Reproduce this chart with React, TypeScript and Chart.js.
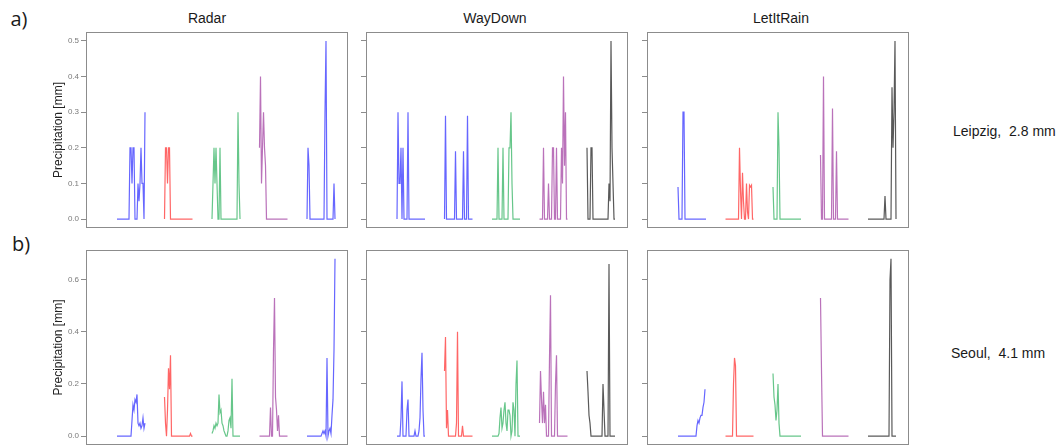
import React, { useEffect, useRef } from "react";
import { Chart, registerables } from "chart.js";

Chart.register(...registerables);

const FONT = "'Liberation Sans', Arial, sans-serif";

// time step at which each of the five events in a panel begins
const eventStart = [0, 47.5, 95, 142.5, 190];
const timeMin = -31;
const timeMax = 231;

const leipzigTicks = [0, 0.1, 0.2, 0.3, 0.4, 0.5];
const leipzigMin = -0.025;
const leipzigMax = 0.525;
const seoulTicks = [0, 0.2, 0.4, 0.6];
const seoulMin = -0.034;
const seoulMax = 0.714;

const columnTitles = ["Radar", "WayDown", "LetItRain"];
const rowLabels = ["a)", "b)"];
const rowSites = ["Leipzig,  2.8 mm", "Seoul,  4.1 mm"];
const yAxisTitle = "Precipitation [mm]";

// ---- Leipzig (row a) ----
const radarLeipzig = [
  [0, 0, 0, 0, 0, 0, 0, 0, 0, 0, 0, 0, 0, 0.2, 0.2, 0.1, 0.2, 0.2, 0, 0, 0, 0.1, 0.05, 0.1, 0.2, 0.1, 0.1, 0, 0.3],
  [0, 0.2, 0.2, 0.1, 0.2, 0.2, 0, 0, 0, 0, 0, 0, 0, 0, 0, 0, 0, 0, 0, 0, 0, 0, 0, 0, 0, 0, 0, 0, 0],
  [0, 0.1, 0.2, 0.1, 0.2, 0.1, 0, 0, 0.2, 0, 0, 0, 0, 0, 0, 0, 0, 0, 0, 0, 0, 0, 0, 0, 0, 0, 0.3, 0.1, 0],
  [0.2, 0.4, 0.1, 0.2, 0.3, 0.2, 0.15, 0, 0, 0, 0, 0, 0, 0, 0, 0, 0, 0, 0, 0, 0, 0, 0, 0, 0, 0, 0, 0, 0],
  [0, 0.2, 0.15, 0, 0, 0, 0, 0, 0, 0, 0, 0, 0, 0, 0, 0, 0, 0, 0.3, 0.5, 0, 0, 0, 0, 0, 0, 0, 0.1, 0],
];
const wayDownLeipzig = [
  [0, 0.3, 0.1, 0.1, 0.2, 0, 0.2, 0, 0, 0, 0, 0.3, 0, 0, 0, 0, 0, 0, 0, 0, 0, 0, 0, 0, 0, 0, 0, 0, 0],
  [0, 0.29, 0, 0, 0, 0, 0, 0, 0, 0, 0, 0.19, 0, 0, 0, 0, 0, 0, 0, 0.19, 0, 0, 0, 0.29, 0, 0, 0, 0, 0],
  [0, 0, 0, 0, 0, 0, 0.2, 0, 0, 0, 0, 0.2, 0, 0, 0, 0, 0, 0.2, 0.2, 0.3, 0.1, 0, 0, 0, 0, 0, 0, 0, 0],
  [0, 0, 0, 0, 0.2, 0, 0, 0, 0, 0.1, 0, 0, 0, 0.2, 0.2, 0, 0, 0.2, 0, 0, 0, 0, 0.2, 0.1, 0.4, 0.15, 0.3, 0, 0],
  [0.2, 0, 0, 0, 0.2, 0.2, 0, 0, 0, 0, 0, 0, 0, 0, 0, 0, 0, 0, 0, 0, 0, 0, 0.1, 0.05, 0.5, 0.2, 0.1, 0, 0],
];
const letItRainLeipzig = [
  [0.09, 0, 0, 0, 0, 0.3, 0.3, 0, 0, 0, 0, 0, 0, 0, 0, 0, 0, 0, 0, 0, 0, 0, 0, 0, 0, 0, 0, 0, 0],
  [0, 0, 0, 0, 0, 0, 0, 0, 0, 0, 0, 0, 0, 0, 0.2, 0.08, 0, 0.13, 0.05, 0, 0, 0.1, 0.02, 0, 0.095, 0.09, 0.095, 0, 0],
  [0.09, 0, 0, 0, 0, 0.3, 0.2, 0, 0, 0, 0, 0, 0, 0, 0, 0, 0, 0, 0, 0, 0, 0, 0, 0, 0, 0, 0, 0, 0],
  [0.18, 0, 0, 0.4, 0, 0, 0, 0, 0, 0, 0, 0, 0.31, 0, 0, 0, 0.19, 0, 0, 0, 0, 0, 0, 0, 0, 0, 0, 0, 0],
  [0, 0, 0, 0, 0, 0, 0, 0, 0, 0, 0, 0, 0, 0, 0, 0, 0, 0.065, 0, 0, 0, 0, 0, 0, 0.37, 0.2, 0.3, 0.5, 0],
];

// ---- Seoul (row b) ----
const radarSeoul = [
  [0, 0, 0, 0, 0, 0, 0, 0, 0, 0, 0, 0, 0, 0, 0, 0.06, 0.12, 0.1, 0.14, 0.13, 0.16, 0.05, 0.04, 0.05, 0.03, 0.04, 0.07, 0.03, 0.05],
  [0.15, 0.05, 0, 0.1, 0.26, 0.18, 0.31, 0, 0, 0, 0, 0, 0, 0, 0, 0, 0, 0, 0, 0, 0, 0, 0, 0, 0, 0, 0.01, 0, 0],
  [0.01, 0.02, 0.04, 0.03, 0.05, 0.04, 0.05, 0.16, 0.09, 0.1, 0.05, 0.04, 0.02, 0.01, 0, 0, 0.02, 0.06, 0.07, 0.03, 0.22, 0, 0, 0, 0, 0, 0, 0, 0],
  [0, 0, 0, 0, 0, 0, 0, 0, 0, 0, 0, 0.11, 0, 0, 0.33, 0.53, 0.15, 0.1, 0.02, 0.08, 0, 0, 0, 0, 0, 0, 0, 0, 0],
  [0, 0, 0, 0, 0, 0, 0, 0, 0, 0, 0, 0, 0, 0, 0, 0.01, 0.02, 0.01, 0.02, 0, 0.3, 0, 0.02, 0.03, 0.01, 0.08, 0.14, 0.33, 0.68],
];
const wayDownSeoul = [
  [0, 0, 0, 0, 0.07, 0.21, 0, 0, 0, 0, 0.1, 0.14, 0, 0, 0, 0, 0, 0, 0.02, 0, 0, 0, 0.02, 0.07, 0.22, 0.32, 0.1, 0, 0],
  [0.25, 0.38, 0.03, 0.1, 0, 0, 0, 0, 0, 0, 0, 0, 0.05, 0.4, 0, 0, 0, 0, 0.04, 0, 0, 0, 0, 0, 0, 0, 0, 0, 0],
  [0, 0, 0, 0, 0, 0, 0, 0.01, 0.07, 0.11, 0.03, 0.05, 0.1, 0.13, 0.05, 0.02, 0.1, 0.1, 0.08, 0, 0.02, 0.13, 0.1, 0, 0.2, 0.29, 0, 0, 0],
  [0.05, 0.25, 0.14, 0.05, 0.17, 0.05, 0.12, 0, 0, 0, 0.3, 0.54, 0, 0, 0, 0, 0.2, 0.31, 0, 0, 0, 0, 0, 0, 0, 0, 0, 0, 0],
  [0.25, 0.17, 0.08, 0.05, 0, 0, 0, 0, 0, 0, 0, 0, 0, 0, 0, 0, 0.2, 0.1, 0, 0, 0, 0, 0.66, 0, 0, 0, 0, 0, 0],
];
const letItRainSeoul = [
  [0, 0, 0, 0, 0, 0, 0, 0, 0, 0, 0, 0, 0, 0, 0, 0, 0, 0, 0, 0.04, 0.06, 0.05, 0.07, 0.08, 0.08, 0.11, 0.13, 0.18],
  [0, 0, 0, 0, 0, 0, 0, 0, 0.2, 0.3, 0.27, 0, 0, 0, 0, 0, 0, 0, 0, 0, 0, 0, 0, 0, 0, 0, 0, 0, 0],
  [0.24, 0.15, 0.12, 0.06, 0.1, 0.2, 0.05, 0, 0, 0, 0, 0, 0, 0, 0, 0, 0, 0, 0, 0, 0, 0, 0, 0, 0, 0, 0, 0, 0],
  [0.53, 0.25, 0, 0, 0, 0, 0, 0, 0, 0, 0, 0, 0, 0, 0, 0, 0, 0, 0, 0, 0, 0, 0, 0, 0, 0, 0, 0, 0],
  [0, 0, 0, 0, 0, 0, 0, 0, 0, 0, 0, 0, 0, 0, 0, 0, 0, 0, 0, 0, 0, 0, 0.6, 0.68, 0, 0, 0, 0, 0],
];

// ---- styles ----
const BLUE = "rgba(0,0,255,0.6)";
const RED = "rgba(255,0,0,0.6)";
const GREEN = "rgba(0,160,60,0.6)";
const PURPLE = "rgba(140,20,140,0.6)";
const BLACK = "rgba(0,0,0,0.65)";

const FRAME_W = 262;
const frameLefts = [86, 366, 647];
const frameTops = [32, 250];
const frameHeights = [196, 195];

const framePlugin = {
  id: "frame",
  afterDraw(chart: any) {
    const { ctx, chartArea } = chart;
    ctx.save();
    ctx.strokeStyle = "#8c8c8c";
    ctx.lineWidth = 1;
    ctx.strokeRect(
      chartArea.left + 0.5,
      chartArea.top + 0.5,
      chartArea.right - chartArea.left - 1,
      chartArea.bottom - chartArea.top - 1
    );
    ctx.restore();
  },
};

type PanelProps = {
  series: number[][];
  colors: string[];
  ticks: number[];
  yMin: number;
  yMax: number;
  showLabels: boolean;
  col: number;
  row: number;
};

function Panel({ series, colors, ticks, yMin, yMax, showLabels, col, row }: PanelProps) {
  const ref = useRef<HTMLCanvasElement>(null);
  const axisW = showLabels ? 39 : 8;
  const x = frameLefts[col] - axisW;
  const y = frameTops[row] - 2;
  const w = axisW + FRAME_W + 2;
  const h = frameHeights[row] + 4;

  useEffect(() => {
    const chart = new Chart(ref.current as HTMLCanvasElement, {
      type: "line",
      data: {
        datasets: series.map((vals, g) => ({
          data: vals.map((v, i) => ({ x: eventStart[g] + i, y: v })),
          borderColor: colors[g],
          borderWidth: 1.2,
          pointRadius: 0,
          tension: 0,
          fill: false,
        })),
      },
      options: {
        responsive: false,
        animation: false,
        devicePixelRatio: 1,
        layout: { padding: { top: 2, right: 2, bottom: 2, left: 0 } },
        plugins: { legend: { display: false }, tooltip: { enabled: false } },
        scales: {
          x: { type: "linear", min: timeMin, max: timeMax, display: false },
          y: {
            type: "linear",
            min: yMin,
            max: yMax,
            afterBuildTicks: (s: any) => {
              s.ticks = ticks.map((v) => ({ value: v }));
            },
            afterFit: (s: any) => {
              s.width = axisW;
              s.paddingTop = 0;
              s.paddingBottom = 0;
            },
            border: { display: false },
            grid: {
              drawOnChartArea: false,
              drawTicks: true,
              tickLength: 5,
              color: "#8c8c8c",
            },
            ticks: {
              display: showLabels,
              padding: 2,
              color: "#7a7a7a",
              font: { size: 8, family: FONT },
              callback: (v: any) => Number(v).toFixed(1),
            },
            title: {
              display: showLabels,
              text: yAxisTitle,
              color: "#222",
              font: { size: 12, family: FONT },
              padding: { top: 4, bottom: 0 },
            },
          },
        },
      },
      plugins: [framePlugin],
    } as any);
    return () => chart.destroy();
  }, []);

  return (
    <canvas
      ref={ref}
      width={w}
      height={h}
      style={{ position: "absolute", left: x, top: y, width: w, height: h }}
    />
  );
}

function Label({ text, cx, cy, size, left, family }: { text: string; cx?: number; cy: number; size: number; left?: number; family?: string }) {
  const style: any = {
    position: "absolute",
    top: cy,
    fontSize: size,
    lineHeight: 1,
    fontFamily: family || FONT,
    color: "#1a1a1a",
    whiteSpace: "pre",
  };
  if (left !== undefined) {
    style.left = left;
    style.transform = "translateY(-50%)";
  } else {
    style.left = cx;
    style.transform = "translate(-50%, -50%)";
  }
  return <div style={style}>{text}</div>;
}

export default function App() {
  const panels = [
    { series: radarLeipzig, colors: [BLUE, RED, GREEN, PURPLE, BLUE], row: 0, col: 0 },
    { series: wayDownLeipzig, colors: [BLUE, BLUE, GREEN, PURPLE, BLACK], row: 0, col: 1 },
    { series: letItRainLeipzig, colors: [BLUE, RED, GREEN, PURPLE, BLACK], row: 0, col: 2 },
    { series: radarSeoul, colors: [BLUE, RED, GREEN, PURPLE, BLUE], row: 1, col: 0 },
    { series: wayDownSeoul, colors: [BLUE, RED, GREEN, PURPLE, BLACK], row: 1, col: 1 },
    { series: letItRainSeoul, colors: [BLUE, RED, GREEN, PURPLE, BLACK], row: 1, col: 2 },
  ];
  const titleCenters = [207, 495, 781];
  return (
    <div
      style={{
        position: "absolute",
        left: 0,
        top: 0,
        width: 1060,
        height: 446,
        background: "#fff",
        overflow: "hidden",
      }}
    >
      {panels.map((p, k) => (
        <Panel
          key={k}
          series={p.series}
          colors={p.colors}
          ticks={p.row === 0 ? leipzigTicks : seoulTicks}
          yMin={p.row === 0 ? leipzigMin : seoulMin}
          yMax={p.row === 0 ? leipzigMax : seoulMax}
          showLabels={p.col === 0}
          col={p.col}
          row={p.row}
        />
      ))}
      {columnTitles.map((t, i) => (
        <Label key={t} text={t} cx={titleCenters[i]} cy={18} size={14} />
      ))}
      <Label text={rowLabels[0]} cx={19} cy={19} size={20} family="'Open Sans', sans-serif" />
      <Label text={rowLabels[1]} cx={21} cy={244} size={20} family="'Open Sans', sans-serif" />
      <Label text={rowSites[0]} left={953} cy={131} size={14} />
      <Label text={rowSites[1]} left={951} cy={353} size={14} />
    </div>
  );
}
